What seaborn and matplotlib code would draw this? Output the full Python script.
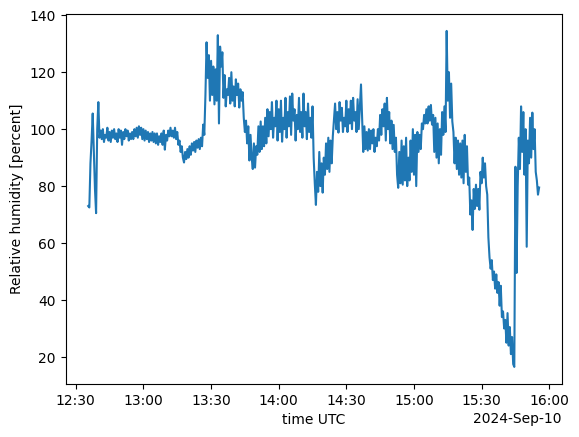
import numpy as np
import pandas as pd
import matplotlib
matplotlib.use("Agg")
import matplotlib.pyplot as plt
import matplotlib.dates as mdates
import seaborn as sns

start_time = "2024-09-10 12:35:30"
sample_step = "30s"

# Relative humidity [percent], one reading every 30 s
rh = [
    73, 72.5, 88, 96, 105.5, 92, 79, 70.5, 100, 109.5,
    97, 99.5, 96.5, 100, 95.5, 98, 97, 100.5, 96, 99,
    95.5, 99.5, 97, 100, 96.5, 98.5, 95.5, 100, 97, 99.5,
    94.5, 99, 96.5, 100, 97.5, 99.5, 96, 98.5, 96.5, 99,
    96.5, 100, 97.5, 100.5, 97, 101, 98, 100.5, 96.5, 100,
    96, 99.5, 96.5, 99, 95.5, 98.5, 96, 99, 95.5, 98.5,
    95, 98.5, 94.5, 97.5, 95.5, 98.5, 94.5, 99.5, 92.8, 98,
    96, 99.5, 97.5, 100.5, 97.5, 99.5, 97, 100.5, 96.5, 99,
    94.5, 96, 92, 94, 90, 88.3, 92, 89.5, 93, 90,
    94, 91, 95, 92.5, 95.5, 92, 96, 93.5, 96.5, 93,
    97, 94, 101.6, 98, 112, 130.5, 118, 126, 110, 124,
    112, 122, 108.7, 121, 110, 133, 102, 129, 122, 127,
    111, 119, 108, 114, 112, 118, 109, 120, 110, 115,
    108, 117.5, 112, 116, 107.6, 114, 110, 113, 104, 99,
    103, 95, 101, 89, 98, 90, 86, 95, 86.5, 94,
    91, 101, 92, 102.7, 93, 101, 94, 104, 95, 107,
    97.5, 106, 100, 109.5, 97, 104, 101, 110, 96, 107,
    99, 110, 95.6, 104, 100, 111, 97, 106, 101, 111.5,
    98, 112.5, 103, 107, 96, 105, 100, 111, 99, 106,
    97, 112.5, 101, 106, 96.5, 109, 99, 104, 97, 108,
    90, 81, 73.4, 85, 78, 92, 80, 88, 77.7, 90,
    84, 95, 86, 97, 85, 96, 88, 97.5, 103, 109,
    100, 106, 98.8, 109.5, 103, 107.5, 99, 104, 101, 110,
    99, 107, 102, 110, 100, 111, 103, 106, 99, 110.5,
    100, 108, 115.7, 104, 92, 101, 93, 99, 92.5, 100,
    93, 99.5, 95, 100, 92, 97, 94, 100, 96, 105,
    98, 107, 101, 109, 96, 111, 100, 106, 95, 103,
    93, 101.5, 92, 97, 84, 79.4, 92, 81, 96, 80.5,
    94, 82, 97, 80, 90, 82, 96, 85, 100, 84,
    98, 80, 99, 92, 98, 93, 102, 100, 105, 102,
    107, 102, 108, 103, 108.5, 101.6, 105, 92, 104, 90,
    102, 88, 100, 91, 106, 98, 108, 99, 134.5, 110,
    120, 104, 116, 102.7, 99, 88, 97, 86, 96, 84,
    95, 83, 96, 81, 98, 85, 94, 80.5, 83, 70,
    75, 64.6, 79, 72, 80.5, 73, 79, 71.7, 85, 81,
    90, 83, 88, 80, 77, 62, 55, 51, 54, 47,
    50, 44, 49, 42.5, 46.3, 38, 45, 34, 36, 30,
    33, 25, 35.4, 24, 30.5, 21, 27, 17.5, 16.5, 86.8,
    49.5, 80, 97, 86, 108, 92, 106, 84, 100, 58.7,
    96, 88, 104, 90, 105.8, 93, 100, 85, 82, 77,
    79.5,
]

times = pd.date_range(start_time, periods=len(rh), freq=sample_step)
df = pd.DataFrame({"time": times, "rh": rh})

fig, ax = plt.subplots(figsize=(6.4, 4.8), dpi=100)
sns.lineplot(data=df, x="time", y="rh", ax=ax, color="#1f77b4",
             linewidth=1.5, estimator=None)

locator = mdates.AutoDateLocator()
ax.xaxis.set_major_locator(locator)
ax.xaxis.set_major_formatter(mdates.ConciseDateFormatter(locator))
ax.set_xlabel("time UTC")
ax.set_ylabel("Relative humidity [percent]")

fig.savefig("out.png", dpi=100, bbox_inches="tight")
